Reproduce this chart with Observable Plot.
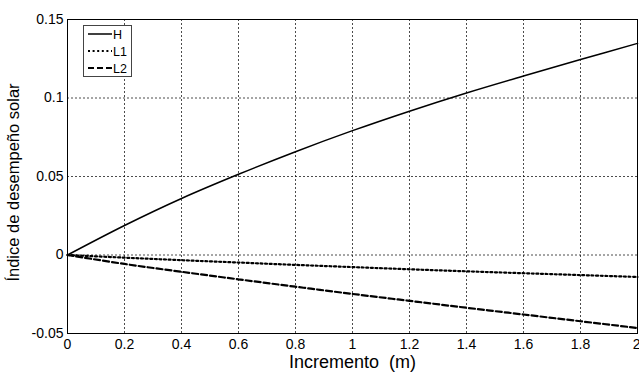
<!DOCTYPE html>
<html>
<head>
<meta charset="utf-8">
<script src="https://cdn.jsdelivr.net/npm/d3@7"></script>
<script src="https://cdn.jsdelivr.net/npm/@observablehq/plot@0.6"></script>
<style>
  body { margin: 0; background: #fff; }
  #wrap { position: relative; width: 639px; height: 373px; }
  #legend { position: absolute; left: 0; top: 0; }
</style>
</head>
<body>
<div id="wrap"></div>
<script>
const increments = [0, 0.2, 0.4, 0.6, 0.8, 1.0, 1.2, 1.4, 1.6, 1.8, 2.0];
const seriesH  = [0, 0.0188, 0.0360, 0.0514, 0.0658, 0.0792, 0.0916, 0.1032, 0.1140, 0.1245, 0.1348];
const seriesL1 = [0, -0.0017, -0.0033, -0.0048, -0.0063, -0.0077, -0.0091, -0.0104, -0.0116, -0.0128, -0.0140];
const seriesL2 = [0, -0.0057, -0.0107, -0.0155, -0.0202, -0.0248, -0.0292, -0.0336, -0.0379, -0.0422, -0.0465];
const seriesNames = ["H", "L1", "L2"];
const xTicks = [0, 0.2, 0.4, 0.6, 0.8, 1, 1.2, 1.4, 1.6, 1.8];
const xLastTick = [2];
const yTicks = [-0.05, 0, 0.05, 0.1, 0.15];
const xLabel = "Incremento  (m)";
const yLabel = "Índice de desempeño solar";

const styles = {
  H:  {strokeWidth: 1.5, strokeDasharray: null},
  L1: {strokeWidth: 2.2, strokeDasharray: "2,2.6"},
  L2: {strokeWidth: 2.2, strokeDasharray: "6,3"}
};
const valuesBy = {H: seriesH, L1: seriesL1, L2: seriesL2};
const rows = name => increments.map((x, i) => ({x, y: valuesBy[name][i]}));

const font = "Arial, 'Liberation Sans', Helvetica, sans-serif";
const fmt = d => String(+d.toFixed(2));

const plot = Plot.plot({
  width: 639,
  height: 373,
  marginLeft: 67,
  marginRight: 2,
  marginTop: 19,
  marginBottom: 40,
  style: {fontFamily: font, background: "#fff", color: "#000"},
  x: {domain: [0, 2]},
  y: {domain: [-0.05, 0.15]},
  marks: [
    Plot.gridX(xTicks.concat(xLastTick), {stroke: "#000", strokeOpacity: 0.7, strokeDasharray: "2,2"}),
    Plot.gridY(yTicks, {stroke: "#000", strokeOpacity: 0.7, strokeDasharray: "2,2"}),
    ...seriesNames.map(n => Plot.line(rows(n), {
      x: "x", y: "y", stroke: "#000", curve: "catmull-rom",
      strokeWidth: styles[n].strokeWidth,
      strokeDasharray: styles[n].strokeDasharray
    })),
    Plot.frame({stroke: "#000", strokeWidth: 1}),
    Plot.axisX(xTicks, {tickSize: 0, tickPadding: 6, tickFormat: fmt, fontSize: 14, label: null, fontFamily: font}),
    Plot.axisX(xLastTick, {tickSize: 0, tickPadding: 6, tickFormat: fmt, fontSize: 14, label: null, fontFamily: font, textAnchor: "end", dx: 3}),
    Plot.axisY({ticks: yTicks, tickSize: 0, tickPadding: 4, tickFormat: fmt, fontSize: 14, label: null, fontFamily: font}),
    Plot.text([xLabel], {frameAnchor: "bottom", dy: 34, fontSize: 18, text: d => d, fontFamily: font}),
    Plot.text([yLabel], {frameAnchor: "left", dx: -54, dy: 6, rotate: -90, textAnchor: "middle", fontSize: 16.5, text: d => d, fontFamily: font})
  ]
});
const wrap = document.getElementById("wrap");
wrap.appendChild(plot);

// Legend overlay (MATLAB style box)
const ns = "http://www.w3.org/2000/svg";
const lg = document.createElementNS(ns, "svg");
lg.setAttribute("id", "legend");
lg.setAttribute("width", 639);
lg.setAttribute("height", 373);
const box = document.createElementNS(ns, "rect");
box.setAttribute("x", 83.5); box.setAttribute("y", 25.5);
box.setAttribute("width", 48); box.setAttribute("height", 51);
box.setAttribute("fill", "#fff"); box.setAttribute("stroke", "#444");
lg.appendChild(box);
seriesNames.forEach((n, i) => {
  const yy = 34 + i * 17;
  const l = document.createElementNS(ns, "line");
  l.setAttribute("x1", 88); l.setAttribute("x2", 112);
  l.setAttribute("y1", yy); l.setAttribute("y2", yy);
  l.setAttribute("stroke", "#000");
  l.setAttribute("stroke-width", styles[n].strokeWidth);
  if (styles[n].strokeDasharray) l.setAttribute("stroke-dasharray", styles[n].strokeDasharray);
  lg.appendChild(l);
  const t = document.createElementNS(ns, "text");
  t.setAttribute("x", 113); t.setAttribute("y", yy + 4.5);
  t.setAttribute("font-family", font); t.setAttribute("font-size", 12.5);
  t.textContent = n;
  lg.appendChild(t);
});
wrap.appendChild(lg);
</script>
</body>
</html>
